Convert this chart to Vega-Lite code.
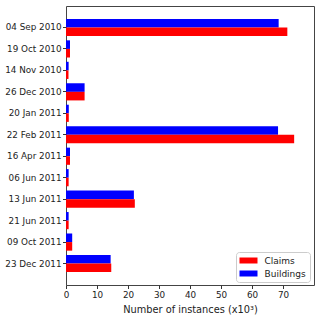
{
  "$schema": "https://vega.github.io/schema/vega-lite/v6.json",
  "autosize": "none",
  "padding": {"left": 66, "top": 6, "right": 6, "bottom": 34},
  "width": 248,
  "height": 279,
  "background": "white",
  "config": {
    "font": "DejaVu Sans",
    "view": {"stroke": "#444", "strokeWidth": 1},
    "axis": {"labelFont": "DejaVu Sans", "titleFont": "DejaVu Sans", "labelColor": "#222", "titleColor": "#222", "tickColor": "#333", "domain": false, "grid": false}
  },
  "data": {
    "values": [
      {"date": "04 Sep 2010", "type": "Buildings", "value": 68.6},
      {"date": "04 Sep 2010", "type": "Claims", "value": 71.4},
      {"date": "19 Oct 2010", "type": "Buildings", "value": 1.3},
      {"date": "19 Oct 2010", "type": "Claims", "value": 1.3},
      {"date": "14 Nov 2010", "type": "Buildings", "value": 0.85},
      {"date": "14 Nov 2010", "type": "Claims", "value": 0.8},
      {"date": "26 Dec 2010", "type": "Buildings", "value": 6.0},
      {"date": "26 Dec 2010", "type": "Claims", "value": 6.0},
      {"date": "20 Jan 2011", "type": "Buildings", "value": 0.9},
      {"date": "20 Jan 2011", "type": "Claims", "value": 0.9},
      {"date": "22 Feb 2011", "type": "Buildings", "value": 68.4},
      {"date": "22 Feb 2011", "type": "Claims", "value": 73.6},
      {"date": "16 Apr 2011", "type": "Buildings", "value": 1.3},
      {"date": "16 Apr 2011", "type": "Claims", "value": 1.3},
      {"date": "06 Jun 2011", "type": "Buildings", "value": 0.85},
      {"date": "06 Jun 2011", "type": "Claims", "value": 0.85},
      {"date": "13 Jun 2011", "type": "Buildings", "value": 21.9},
      {"date": "13 Jun 2011", "type": "Claims", "value": 22.2},
      {"date": "21 Jun 2011", "type": "Buildings", "value": 0.85},
      {"date": "21 Jun 2011", "type": "Claims", "value": 0.85},
      {"date": "09 Oct 2011", "type": "Buildings", "value": 2.0},
      {"date": "09 Oct 2011", "type": "Claims", "value": 2.0},
      {"date": "23 Dec 2011", "type": "Buildings", "value": 14.4},
      {"date": "23 Dec 2011", "type": "Claims", "value": 14.6}
    ]
  },
  "mark": {"type": "bar", "stroke": null},
  "encoding": {
    "y": {
      "field": "date", "type": "nominal", "sort": null,
      "scale": {"paddingInner": 0.2, "paddingOuter": 0.6},
      "axis": {"title": null, "labelFontSize": 8.8, "tickSize": 3.5, "labelPadding": 1.5}
    },
    "yOffset": {"field": "type", "type": "nominal", "sort": ["Buildings", "Claims"]},
    "x": {
      "field": "value", "type": "quantitative",
      "scale": {"domain": [0, 80], "nice": false},
      "axis": {"title": "Number of instances (x10³)", "values": [0, 10, 20, 30, 40, 50, 60, 70], "labelFontSize": 8.8, "titleFontSize": 9.8, "titleFontWeight": "normal", "tickSize": 3.5, "labelPadding": 2, "titlePadding": 5, "labelFlush": false}
    },
    "color": {
      "field": "type", "type": "nominal",
      "scale": {"domain": ["Claims", "Buildings"], "range": ["#ff0000", "#0000ff"]},
      "legend": {
        "title": null, "orient": "none", "legendX": 170, "legendY": 246,
        "fillColor": "white", "strokeColor": "#cccccc", "padding": 3.5, "cornerRadius": 3,
        "symbolType": "M-1.8,-0.6H1.8V0.6H-1.8Z", "symbolSize": 100, "symbolOpacity": 1, "symbolStrokeWidth": 0,
        "symbolOffset": 4, "labelOffset": 11,
        "labelFontSize": 9, "labelFont": "DejaVu Sans", "labelColor": "#222", "rowPadding": 3
      }
    }
  }
}
